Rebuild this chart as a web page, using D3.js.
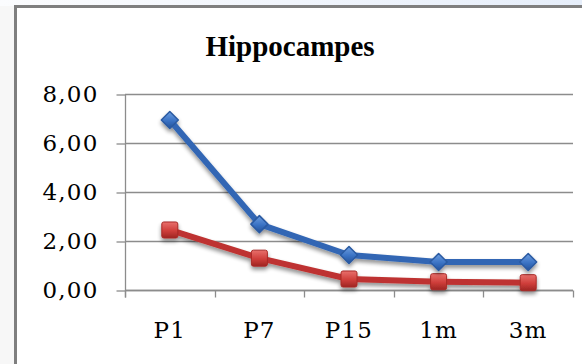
<!DOCTYPE html>
<html>
<head>
<meta charset="utf-8">
<script src="https://cdn.jsdelivr.net/npm/d3@7"></script>
<style>
  html, body { margin: 0; padding: 0; background: #ffffff; }
  svg { display: block; }
</style>
</head>
<body>
<svg id="chart" width="582" height="364"></svg>
<script>
// Chart data
const categories = ["P1", "P7", "P15", "1m", "3m"];
const seriesBlue = [6.94, 2.69, 1.43, 1.14, 1.14];
const seriesRed = [2.45, 1.30, 0.45, 0.34, 0.30];
const yTickValues = [0, 2, 4, 6, 8];
const yTickLabels = ["0,00", "2,00", "4,00", "6,00", "8,00"];
const titleText = "Hippocampes";

const svg = d3.select("#chart");
const W = 582, H = 364;

const defs = svg.append("defs");

// background strips outside the chart frame
const topGrad = defs.append("linearGradient").attr("id", "topGrad")
  .attr("x1", "0%").attr("x2", "100%").attr("y1", "0%").attr("y2", "0%");
topGrad.append("stop").attr("offset", "0%").attr("stop-color", "#fbfcfe");
topGrad.append("stop").attr("offset", "100%").attr("stop-color", "#e6eefa");

svg.append("rect").attr("x", 0).attr("y", 0).attr("width", W).attr("height", H).attr("fill", "#f7f7f7");
svg.append("rect").attr("x", 0).attr("y", 0).attr("width", W).attr("height", 6).attr("fill", "url(#topGrad)");

// chart frame
svg.append("rect")
  .attr("x", 15.5).attr("y", 6.5)
  .attr("width", W + 20).attr("height", H + 20)
  .attr("fill", "#ffffff")
  .attr("stroke", "#7f7f7f")
  .attr("stroke-width", 3);

// drop shadow for the series
const shadow = defs.append("filter").attr("id", "shadow")
  .attr("x", "-20%").attr("y", "-20%").attr("width", "140%").attr("height", "160%");
shadow.append("feGaussianBlur").attr("in", "SourceAlpha").attr("stdDeviation", 2.2).attr("result", "blur");
shadow.append("feOffset").attr("in", "blur").attr("dx", 0).attr("dy", 3).attr("result", "off");
shadow.append("feComponentTransfer").attr("in", "off").attr("result", "offA")
  .append("feFuncA").attr("type", "linear").attr("slope", 0.45);
const merge = shadow.append("feMerge");
merge.append("feMergeNode").attr("in", "offA");
merge.append("feMergeNode").attr("in", "SourceGraphic");

// marker gradients
const redGrad = defs.append("linearGradient").attr("id", "redGrad")
  .attr("x1", "0%").attr("x2", "0%").attr("y1", "0%").attr("y2", "100%");
redGrad.append("stop").attr("offset", "0%").attr("stop-color", "#e8706c");
redGrad.append("stop").attr("offset", "55%").attr("stop-color", "#cf3e3a");
redGrad.append("stop").attr("offset", "100%").attr("stop-color", "#9e2522");
const blueGrad = defs.append("linearGradient").attr("id", "blueGrad")
  .attr("x1", "0%").attr("x2", "0%").attr("y1", "0%").attr("y2", "100%");
blueGrad.append("stop").attr("offset", "0%").attr("stop-color", "#6e9fe0");
blueGrad.append("stop").attr("offset", "55%").attr("stop-color", "#3a72c4");
blueGrad.append("stop").attr("offset", "100%").attr("stop-color", "#24539a");

// plot area
const plot = { left: 125, right: 573, top: 94, bottom: 290 };

const x = d3.scalePoint().domain(categories).range([plot.left, plot.right]).padding(0.5);
const xBand = d3.scaleBand().domain(categories).range([plot.left, plot.right]);
const y = d3.scaleLinear().domain([0, 8]).range([plot.bottom, plot.top]);

// title
svg.append("text")
  .attr("x", 290).attr("y", 56)
  .attr("text-anchor", "middle")
  .attr("font-family", "'Liberation Serif', 'Times New Roman', serif")
  .attr("font-weight", "bold")
  .attr("font-size", 29)
  .attr("fill", "#000")
  .text(titleText);

const gridColor = "#8c8c8c";

// horizontal gridlines
svg.append("g")
  .selectAll("line")
  .data(yTickValues)
  .join("line")
  .attr("x1", plot.left).attr("x2", plot.right)
  .attr("y1", d => Math.round(y(d)) + 0.5).attr("y2", d => Math.round(y(d)) + 0.5)
  .attr("stroke", gridColor).attr("stroke-width", 1.3);

// y axis
const yAxis = d3.axisLeft(y)
  .tickValues(yTickValues)
  .tickFormat((d, i) => yTickLabels[i])
  .tickSize(9)
  .tickPadding(18);
const gy = svg.append("g").attr("transform", `translate(${plot.left + 0.5},0.5)`).call(yAxis);
gy.select(".domain").attr("stroke", gridColor).attr("stroke-width", 1.3)
  .attr("d", `M0,${plot.top}V${plot.bottom + 7}`);
gy.selectAll(".tick line").attr("stroke", gridColor).attr("stroke-width", 1.3);
gy.selectAll(".tick text")
  .attr("font-family", "'DejaVu Serif', serif")
  .attr("font-size", 23)
  .attr("letter-spacing", 1.2)
  .attr("fill", "#000");

// x axis with tick marks on category boundaries
const gx = svg.append("g").attr("transform", `translate(0,${plot.bottom + 0.5})`);
gx.append("line")
  .attr("x1", plot.left).attr("x2", plot.right)
  .attr("stroke", gridColor).attr("stroke-width", 1.3);
const boundaries = categories.map(c => xBand(c)).concat([plot.right]);
gx.selectAll("line.tk")
  .data(boundaries)
  .join("line").attr("class", "tk")
  .attr("x1", d => Math.round(d) + 0.5).attr("x2", d => Math.round(d) + 0.5)
  .attr("y1", 0).attr("y2", 7)
  .attr("stroke", gridColor).attr("stroke-width", 1.3);
gx.selectAll("text")
  .data(categories)
  .join("text")
  .attr("x", d => x(d))
  .attr("y", 47.5)
  .attr("text-anchor", "middle")
  .attr("font-family", "'DejaVu Serif', serif")
  .attr("font-size", 23)
  .attr("letter-spacing", 1.2)
  .attr("fill", "#000")
  .text(d => d);

// series lines
const line = d3.line().x((d, i) => x(categories[i])).y(d => y(d));

const series = [
  { values: seriesRed, color: "#be3330", marker: "square" },
  { values: seriesBlue, color: "#3166b4", marker: "diamond" }
];

series.forEach(s => {
  const g = svg.append("g").attr("filter", "url(#shadow)");
  g.append("path")
    .datum(s.values)
    .attr("d", line)
    .attr("fill", "none")
    .attr("stroke", s.color)
    .attr("stroke-width", 6)
    .attr("stroke-linejoin", "round");
  if (s.marker === "square") {
    g.selectAll("rect")
      .data(s.values)
      .join("rect")
      .attr("x", (d, i) => x(categories[i]) - 8)
      .attr("y", d => y(d) - 8)
      .attr("width", 16).attr("height", 16)
      .attr("rx", 2)
      .attr("fill", "url(#redGrad)")
      .attr("stroke", "#a82a27").attr("stroke-width", 1);
  } else {
    const r = 8.5;
    g.selectAll("path.mk")
      .data(s.values)
      .join("path").attr("class", "mk")
      .attr("d", (d, i) => {
        const cx = x(categories[i]), cy = y(d);
        return `M${cx},${cy - r}L${cx + r},${cy}L${cx},${cy + r}L${cx - r},${cy}Z`;
      })
      .attr("fill", "url(#blueGrad)")
      .attr("stroke", "#2a5aa2").attr("stroke-width", 1.5)
      .attr("stroke-linejoin", "round");
  }
});
</script>
</body>
</html>
